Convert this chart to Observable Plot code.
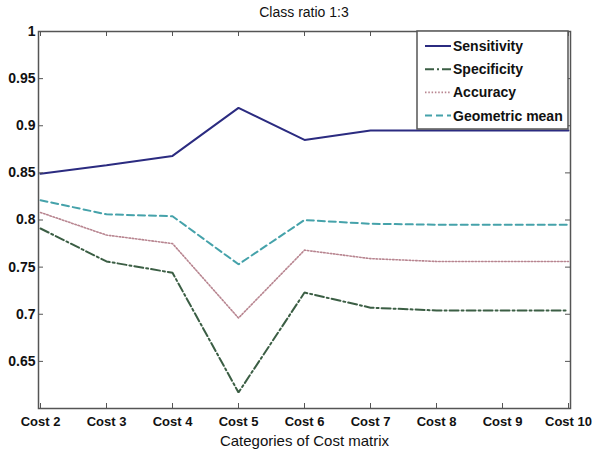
<!DOCTYPE html>
<html>
<head>
<meta charset="utf-8">
<script src="https://cdn.jsdelivr.net/npm/d3@7"></script>
<script src="https://cdn.jsdelivr.net/npm/@observablehq/plot@0.6"></script>
<style>
  html, body { margin: 0; padding: 0; background: #fff; }
  #chart { width: 600px; height: 457px; }
  svg { font-family: "Liberation Sans", Arial, sans-serif; }
</style>
</head>
<body>
<div id="chart"></div>
<script>
const title = "Class ratio 1:3";
const xLabel = "Categories of Cost matrix";
const categories = ["Cost 2", "Cost 3", "Cost 4", "Cost 5", "Cost 6", "Cost 7", "Cost 8", "Cost 9", "Cost 10"];
const seriesNames = ["Sensitivity", "Specificity", "Accuracy", "Geometric mean"];
const sensitivity = [0.849, 0.858, 0.868, 0.919, 0.885, 0.895, 0.895, 0.895, 0.895];
const specificity = [0.791, 0.756, 0.744, 0.617, 0.723, 0.707, 0.704, 0.704, 0.704];
const accuracy    = [0.808, 0.784, 0.775, 0.696, 0.768, 0.759, 0.756, 0.756, 0.756];
const geoMean     = [0.821, 0.806, 0.804, 0.753, 0.800, 0.796, 0.795, 0.795, 0.795];
const yTicks = [0.65, 0.7, 0.75, 0.8, 0.85, 0.9, 0.95, 1];

const seriesValues = [sensitivity, specificity, accuracy, geoMean];
const styles = [
  {stroke: "#2b2b80", strokeWidth: 2, strokeDasharray: null},
  {stroke: "#3b5e44", strokeWidth: 2, strokeDasharray: "9,3,2,3"},
  {stroke: "#b88590", strokeWidth: 1.6, strokeDasharray: "1.5,1.8"},
  {stroke: "#45a2aa", strokeWidth: 2, strokeDasharray: "7,4"}
];

const lineMarks = seriesNames.map((name, i) => {
  const data = categories.map((c, j) => ({cat: c, value: seriesValues[i][j]}));
  return Plot.line(data, {
    x: "cat", y: "value",
    stroke: styles[i].stroke,
    strokeWidth: styles[i].strokeWidth,
    strokeDasharray: styles[i].strokeDasharray,
    strokeLinejoin: "miter"
  });
});

const W = 600, H = 457, mL = 38, mR = 30, mT = 31, mB = 49;
const innerW = W - mL - mR, innerH = H - mT - mB;
const T = 5;
const tickStyle = {stroke: "#555", strokeWidth: 1};

const plot = Plot.plot({
  width: W,
  height: H,
  marginLeft: mL,
  marginRight: mR,
  marginTop: mT,
  marginBottom: mB,
  style: {fontFamily: "'Liberation Sans', Arial, sans-serif", background: "#fff"},
  x: {type: "point", domain: categories, padding: 0},
  y: {domain: [0.6, 1]},
  marks: [
    ...lineMarks,
    // inward ticks (MATLAB style)
    Plot.ruleX(categories, {x: d => d, insetBottom: innerH - T, ...tickStyle}),
    Plot.ruleX(categories, {x: d => d, insetTop: innerH - T, ...tickStyle}),
    Plot.ruleY(yTicks, {y: d => d, insetRight: innerW - T, ...tickStyle}),
    Plot.ruleY(yTicks, {y: d => d, insetLeft: innerW - T, ...tickStyle}),
    Plot.frame({stroke: "#555", strokeWidth: 1.5}),
    // labels
    Plot.axisX({anchor: "bottom", tickSize: 0, tickPadding: 8, fontSize: 13, fontWeight: "bold", fill: "#111",
      label: xLabel, labelAnchor: "center", labelArrow: "none", labelOffset: 37}),
    Plot.axisY(yTicks, {anchor: "left", tickSize: 0, tickPadding: 3, fontSize: 14, fontWeight: "bold", fill: "#111",
      tickFormat: d => String(d), label: null})
  ]
});

const svg = d3.select(plot);
svg.selectAll("g[aria-label='x-axis label'] text").attr("font-size", 15).attr("font-weight", "normal").attr("fill", "#111");

const xs = plot.scale("x"), ys = plot.scale("y");
const xRight = xs.apply(categories[categories.length - 1]);
const xLeft = xs.apply(categories[0]);
const yTop = ys.apply(1);

// title
svg.append("text")
  .attr("x", (xLeft + xRight) / 2).attr("y", yTop - 14)
  .attr("text-anchor", "middle")
  .attr("font-size", 14).attr("fill", "#111")
  .text(title);

// legend
const lgW = 151, lgH = 98, rowH = 23.2;
const lg = svg.append("g").attr("transform", `translate(${xRight - lgW},${yTop})`).attr("text-anchor", "start");
lg.append("rect").attr("width", lgW).attr("height", lgH).attr("fill", "#fff").attr("stroke", "#555").attr("stroke-width", 1.5);
seriesNames.forEach((name, i) => {
  const cy = 15 + i * rowH;
  lg.append("line")
    .attr("x1", 8).attr("x2", 34).attr("y1", cy).attr("y2", cy)
    .attr("stroke", styles[i].stroke)
    .attr("stroke-width", styles[i].strokeWidth)
    .attr("stroke-dasharray", styles[i].strokeDasharray);
  lg.append("text")
    .attr("x", 36).attr("y", cy).attr("dy", "0.35em")
    .attr("text-anchor", "start")
    .attr("font-size", 14).attr("font-weight", "bold").attr("fill", "#111")
    .text(name);
});

document.getElementById("chart").appendChild(plot);
</script>
</body>
</html>
